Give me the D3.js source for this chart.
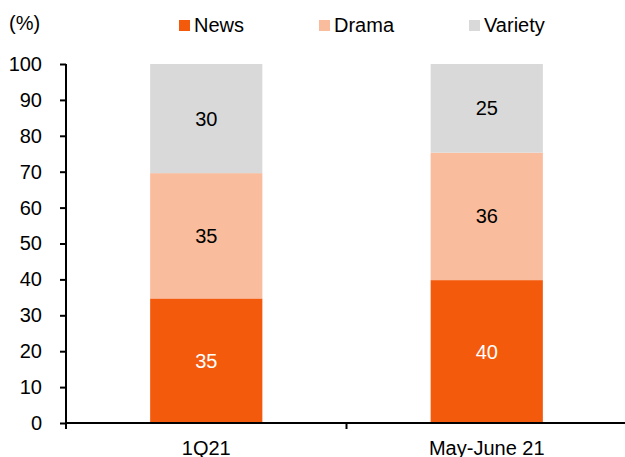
<!DOCTYPE html>
<html>
<head>
<meta charset="utf-8">
<script src="https://cdn.jsdelivr.net/npm/d3@7"></script>
<style>
  body { margin: 0; background: #fff; }
  svg { display: block; font-family: "Liberation Sans", Arial, sans-serif; }
</style>
</head>
<body>
<div id="chart"></div>
<script>
// data
const categories = ['1Q21', 'May-June 21'];
const seriesNames = ['News', 'Drama', 'Variety'];
const news = [34.7, 39.8];
const drama = [34.9, 35.5];
const variety = [30.4, 24.7];
const yTicks = [0, 10, 20, 30, 40, 50, 60, 70, 80, 90, 100];

const colors = { News: '#f45a0c', Drama: '#f9bc9d', Variety: '#d9d9d9' };
const labelColors = { News: '#fff', Drama: '#000', Variety: '#000' };

const width = 625;
const height = 457;
const margin = { top: 64, right: -2, bottom: 34, left: 66 };

const rows = categories.map((c, i) => ({ cat: c, News: news[i], Drama: drama[i], Variety: variety[i] }));
const stacked = d3.stack().keys(seriesNames)(rows);

const svg = d3.select('#chart').append('svg')
  .attr('width', width)
  .attr('height', height);

const x = d3.scaleBand()
  .domain(categories)
  .range([margin.left, width - margin.right])
  .paddingInner(0)
  .paddingOuter(0);

const y = d3.scaleLinear()
  .domain([0, 100])
  .range([height - margin.bottom, margin.top]);

const barW = x.bandwidth() * 0.4;

// bars
const layer = svg.append('g')
  .selectAll('g')
  .data(stacked)
  .join('g')
  .attr('fill', (d) => colors[d.key]);

layer.selectAll('rect')
  .data((d) => d)
  .join('rect')
  .attr('x', (d) => x(d.data.cat) + (x.bandwidth() - barW) / 2)
  .attr('y', (d) => y(d[1]))
  .attr('width', barW)
  .attr('height', (d) => y(d[0]) - y(d[1]));

// segment labels
layer.selectAll('text')
  .data((d) => d.map((v) => ({ v, key: d.key })))
  .join('text')
  .attr('x', (d) => x(d.v.data.cat) + x.bandwidth() / 2)
  .attr('y', (d) => y((d.v[0] + d.v[1]) / 2))
  .attr('text-anchor', 'middle')
  .attr('dominant-baseline', 'central')
  .attr('font-size', 20)
  .attr('fill', (d) => labelColors[d.key])
  .text((d) => Math.round(d.v[1] - d.v[0]));

// y axis
const yAxis = svg.append('g')
  .attr('transform', `translate(${margin.left},0)`)
  .call(d3.axisLeft(y).tickValues(yTicks).tickSize(6).tickPadding(18));
yAxis.select('.domain').attr('stroke', '#000').attr('stroke-width', 2)
  .attr('d', `M0,${y(100)}V${y(0) + 6}`);
yAxis.selectAll('.tick line').attr('stroke-width', 2);
yAxis.selectAll('.tick text')
  .attr('font-size', 20)
  .attr('font-family', '"Liberation Sans", Arial, sans-serif')
  .attr('fill', '#000');

// x axis
const xAxis = svg.append('g')
  .attr('transform', `translate(0,${y(0)})`)
  .call(d3.axisBottom(x).tickSize(0).tickPadding(18));
xAxis.select('.domain').attr('stroke', '#000').attr('stroke-width', 2)
  .attr('d', `M${margin.left},0H${width + 2}`);
xAxis.selectAll('.tick text')
  .attr('font-size', 20)
  .attr('font-family', '"Liberation Sans", Arial, sans-serif')
  .attr('fill', '#000');

// boundary ticks between categories
xAxis.append('g')
  .selectAll('line')
  .data(categories.slice(1))
  .join('line')
  .attr('x1', (d) => x(d))
  .attr('x2', (d) => x(d))
  .attr('y1', 0)
  .attr('y2', 6)
  .attr('stroke', '#000')
  .attr('stroke-width', 2);

// unit label
svg.append('text')
  .attr('x', 9)
  .attr('y', 30)
  .attr('font-size', 20)
  .attr('fill', '#000')
  .text('(%)');

// legend
const legendX = [179, 319, 469];
const legend = svg.append('g')
  .selectAll('g')
  .data(seriesNames)
  .join('g')
  .attr('transform', (d, i) => `translate(${legendX[i]},20)`);

legend.append('rect')
  .attr('width', 11)
  .attr('height', 11)
  .attr('fill', (d) => colors[d]);

legend.append('text')
  .attr('x', 15)
  .attr('y', 12)
  .attr('font-size', 20)
  .attr('fill', '#000')
  .text((d) => d);
</script>
</body>
</html>
